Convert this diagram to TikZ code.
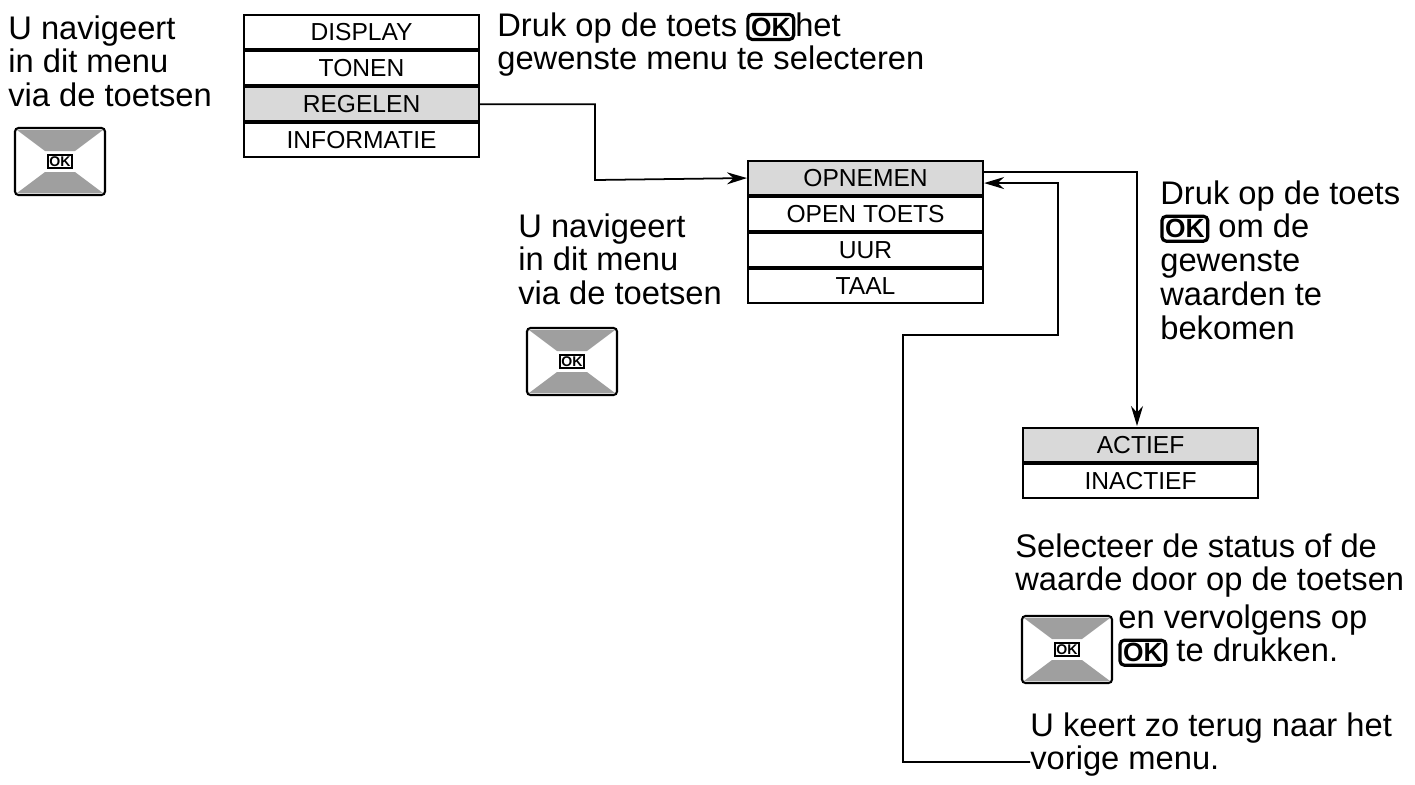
\documentclass[tikz,border=0pt]{standalone}
\usepackage{fontspec}
\setmainfont{Liberation Sans}
\usetikzlibrary{positioning}
\usetikzlibrary{arrows.meta}

\tikzset{
    menurow/.style={draw, line width=1.2pt, minimum width=47mm, minimum height=6.8mm,
        inner sep=0pt, font=\fontsize{14}{15}\selectfont},
    selrow/.style={menurow, fill=gray!30},
    note/.style={align=left, anchor=north west, inner sep=0pt,
        font=\fontsize{18.6}{19.2}\selectfont},
    link/.style={line width=1pt, -{Stealth[length=4mm, width=2.4mm]}},
    okkey/.style={draw, line width=1.8pt, rounded corners=2.5pt, inner sep=1.8pt,
        font=\bfseries\fontsize{15}{15}\selectfont},
    pics/keypad/.style={code={
        \draw[line width=1.2pt, rounded corners=2pt, fill=white] (0,0) rectangle (18mm,13.4mm);
        \fill[gray!75] (0.4mm,0.4mm) -- (17.6mm,0.4mm) -- (12mm,4.6mm) -- (6mm,4.6mm) -- cycle;
        \fill[gray!75] (0.4mm,13mm) -- (17.6mm,13mm) -- (12mm,8.8mm) -- (6mm,8.8mm) -- cycle;
        \node[draw, line width=1pt, fill=white, inner sep=1pt,
            font=\bfseries\fontsize{8}{8}\selectfont] at (9mm,6.7mm) {OK};
    }},
}

\begin{document}
\begin{tikzpicture}[x=0.2mm, y=-0.2mm]
    \useasboundingbox (0,0) rectangle (1415,784);

    % first menu
    \node[menurow, anchor=north west] (m_display) at (243,14) {DISPLAY};
    \node[menurow, below=0pt of m_display] (m_tonen) {TONEN};
    \node[selrow, below=0pt of m_tonen] (m_regelen) {REGELEN};
    \node[menurow, below=0pt of m_regelen] (m_info) {INFORMATIE};

    \node[note] (t_nav1) at (8,15) {U navigeert\\in dit menu\\via de toetsen};
    \pic at (15,195) {keypad};
    \node[note] (t_ok1) at (497,12) {Druk op de toets \tikz[baseline=(k.base)]\node[okkey] (k) {OK};het\\gewenste menu te selecteren};

    % second menu
    \node[selrow, anchor=north west] (m_opnemen) at (747,160) {OPNEMEN};
    \node[menurow, below=0pt of m_opnemen] (m_open) {OPEN TOETS};
    \node[menurow, below=0pt of m_open] (m_uur) {UUR};
    \node[menurow, below=0pt of m_uur] (m_taal) {TAAL};

    \node[note] (t_nav2) at (518,213) {U navigeert\\in dit menu\\via de toetsen};
    \pic at (527,395) {keypad};
    \node[note] (t_ok2) at (1160,180) {Druk op de toets\\\tikz[baseline=(k.base)]\node[okkey] (k) {OK}; om de\\gewenste\\waarden te\\bekomen};

    % third menu
    \node[selrow, anchor=north west] (m_actief) at (1022,427) {ACTIEF};
    \node[menurow, below=0pt of m_actief] (m_inactief) {INACTIEF};

    \node[note] (t_sel) at (1015,533) {Selecteer de status of de\\waarde door op de toetsen};
    \pic at (1022,683) {keypad};
    \node[note] (t_ok3) at (1118,604) {en vervolgens op\\\tikz[baseline=(k.base)]\node[okkey] (k) {OK}; te drukken.};
    \node[note] (t_back) at (1030,712) {U keert zo terug naar het\\vorige menu.};

    % connectors
    \coordinate (c_down) at (1137,426);
    \draw[link] (m_regelen.east) -| (595,180) -- (m_opnemen.west);
    \draw[link] ([yshift=1.2mm]m_opnemen.east) -| (c_down);
    \draw[link] ([yshift=3mm]t_back.south west) -| (903,335) -| (1058,183) -- ([yshift=-1mm]m_opnemen.east);
\end{tikzpicture}
\end{document}
